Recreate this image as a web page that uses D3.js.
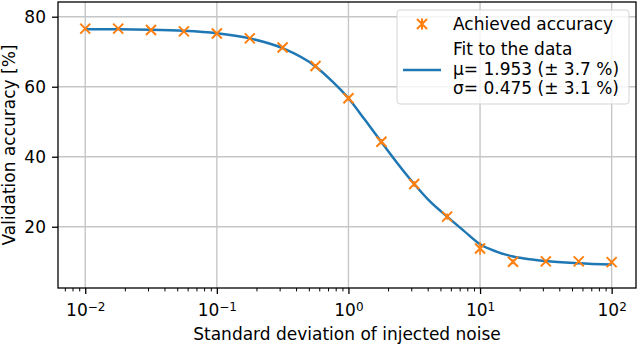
<!DOCTYPE html>
<html>
<head>
<meta charset="utf-8">
<script src="https://cdn.jsdelivr.net/npm/d3@7"></script>
<style>
  body { margin: 0; background: #fff; }
  text { font-family: "DejaVu Sans", sans-serif; fill: #000; }
</style>
</head>
<body>
<svg id="chart" width="640" height="345"></svg>
<script>
// measured points
var noise = [0.01, 0.0178, 0.0316, 0.0562, 0.1, 0.178, 0.316, 0.562, 1, 1.78, 3.16, 5.62, 10, 17.8, 31.6, 56.2, 100];
var accuracy = [76.6, 76.6, 76.2, 75.8, 75.2, 73.8, 71.2, 65.9, 56.7, 44.3, 32.2, 22.9, 13.8, 10.0, 10.1, 10.1, 9.9];
var accErr = [0.3, 0.3, 0.3, 0.3, 0.4, 0.4, 0.5, 0.6, 0.7, 0.8, 0.8, 0.9, 1.8, 0.7, 0.5, 0.4, 0.4];
// fitted curve
var fitX = [0.01, 0.0178, 0.0316, 0.0562, 0.1, 0.178, 0.316, 0.562, 0.75, 1, 1.33, 1.78, 2.37, 3.16, 4.22, 5.62, 7.5, 10, 13.3, 17.8, 23.7, 31.6, 56.2, 100];
var fitY = [76.4, 76.4, 76.3, 76.0, 75.3, 73.8, 71.0, 65.8, 61.6, 56.7, 50.6, 44.2, 38.0, 32.2, 27.0, 22.9, 18.9, 15.0, 12.9, 11.5, 10.7, 10.2, 9.6, 9.2];
var xTicks = [0.01, 0.1, 1, 10, 100];
var xTickExp = ["\u22122", "\u22121", "0", "1", "2"];
var yTicks = [20, 40, 60, 80];
var legendLines = ["Fit to the data", "\u03bc= 1.953 (\u00b1 3.7 %)", "\u03c3= 0.475 (\u00b1 3.1 %)"];

var svg = d3.select("#chart");
var pLeft = 58, pRight = 636, pTop = 2, pBottom = 288;
var orange = "#ff7f0e", blue = "#1f77b4";

var x = d3.scaleLog()
          .domain([Math.pow(10, -2.207), Math.pow(10, 2.185)])
          .range([pLeft, pRight]);
var y = d3.scaleLinear()
          .domain([2.5, 84.2])
          .range([pBottom, pTop]);

//Grid
svg.append("g").selectAll("line")
   .data(xTicks).enter().append("line")
   .attr("x1", function(d) { return x(d); })
   .attr("x2", function(d) { return x(d); })
   .attr("y1", pTop).attr("y2", pBottom)
   .attr("stroke", "#c6c6c6").attr("stroke-width", 1.4);
svg.append("g").selectAll("line")
   .data(yTicks).enter().append("line")
   .attr("x1", pLeft).attr("x2", pRight)
   .attr("y1", function(d) { return y(d); })
   .attr("y2", function(d) { return y(d); })
   .attr("stroke", "#c6c6c6").attr("stroke-width", 1.4);

//Fit line
var line = d3.line()
   .x(function(d, i) { return x(fitX[i]); })
   .y(function(d) { return y(d); })
   .curve(d3.curveMonotoneX);
svg.append("path")
   .attr("d", line(fitY))
   .attr("fill", "none")
   .attr("stroke", blue)
   .attr("stroke-width", 2.5);

//Points with error bars
var pts = svg.append("g").selectAll("g")
   .data(accuracy).enter().append("g")
   .attr("transform", function(d, i) { return "translate(" + x(noise[i]) + "," + y(d) + ")"; });
pts.append("line")
   .attr("x1", 0).attr("x2", 0)
   .attr("y1", function(d, i) { return y(d + accErr[i]) - y(d); })
   .attr("y2", function(d, i) { return y(d - accErr[i]) - y(d); })
   .attr("stroke", orange).attr("stroke-width", 1.6);
pts.append("path")
   .attr("d", "M-5,-5L5,5M-5,5L5,-5")
   .attr("stroke", orange).attr("stroke-width", 2);

//Frame
svg.append("rect")
   .attr("x", pLeft).attr("y", pTop)
   .attr("width", pRight - pLeft).attr("height", pBottom - pTop)
   .attr("fill", "none").attr("stroke", "#000").attr("stroke-width", 1.3);

//X axis
var minor = [];
[-3, -2, -1, 0, 1, 2].forEach(function(k) {
  for (var m = 2; m < 10; m++) {
    var v = m * Math.pow(10, k);
    if (x(v) > pLeft && x(v) < pRight) minor.push(v);
  }
});
svg.append("g")
   .attr("transform", "translate(0," + pBottom + ")")
   .call(d3.axisBottom(x).tickValues(minor).tickSize(3.4).tickFormat(""))
   .call(function(g) { g.select(".domain").remove(); g.selectAll("line").attr("stroke-width", 1); });
var xa = svg.append("g")
   .attr("transform", "translate(0," + pBottom + ")")
   .call(d3.axisBottom(x).tickValues(xTicks).tickSize(6).tickPadding(6).tickFormat(""))
   .call(function(g) { g.select(".domain").remove(); g.selectAll("line").attr("stroke-width", 1.3); });
xa.selectAll(".tick text")
   .style("font-size", "17px")
   .attr("dy", "0.95em")
   .each(function(d, i) {
     var t = d3.select(this);
     t.append("tspan").text("10");
     t.append("tspan").attr("dy", "-0.45em").style("font-size", "12px").text(xTickExp[i]);
   });
svg.append("text")
   .attr("x", (pLeft + pRight) / 2)
   .attr("y", 340)
   .attr("text-anchor", "middle")
   .style("font-size", "17px")
   .text("Standard deviation of injected noise");

//Y axis
var ya = svg.append("g")
   .attr("transform", "translate(" + pLeft + ",0)")
   .call(d3.axisLeft(y).tickValues(yTicks).tickSize(6).tickPadding(6))
   .call(function(g) { g.select(".domain").remove(); g.selectAll("line").attr("stroke-width", 1.3); });
ya.selectAll(".tick text").style("font-size", "17px");
svg.append("text")
   .attr("transform", "translate(14.5," + ((pTop + pBottom) / 2) + ") rotate(-90)")
   .attr("text-anchor", "middle")
   .style("font-size", "17px")
   .text("Validation accuracy [%]");

//Legend
var lg = svg.append("g");
lg.append("rect")
   .attr("x", 397).attr("y", 10)
   .attr("width", 232).attr("height", 94)
   .attr("rx", 3)
   .attr("fill", "#fff").attr("fill-opacity", 0.8)
   .attr("stroke", "#d5d5d5").attr("stroke-width", 1);
lg.append("path")
   .attr("d", "M417,19L427,29M417,29L427,19M422,18.5L422,29.5")
   .attr("stroke", orange).attr("stroke-width", 2);
lg.append("text").attr("x", 453).attr("y", 30).style("font-size", "17px").text("Achieved accuracy");
lg.append("line")
   .attr("x1", 403).attr("x2", 441)
   .attr("y1", 70).attr("y2", 70)
   .attr("stroke", blue).attr("stroke-width", 2.5);
lg.selectAll("text.fit")
   .data(legendLines).enter().append("text")
   .attr("class", "fit")
   .attr("x", 453)
   .attr("y", function(d, i) { return 55 + i * 19.7; })
   .style("font-size", "17px")
   .text(function(d) { return d; });
</script>
</body>
</html>
